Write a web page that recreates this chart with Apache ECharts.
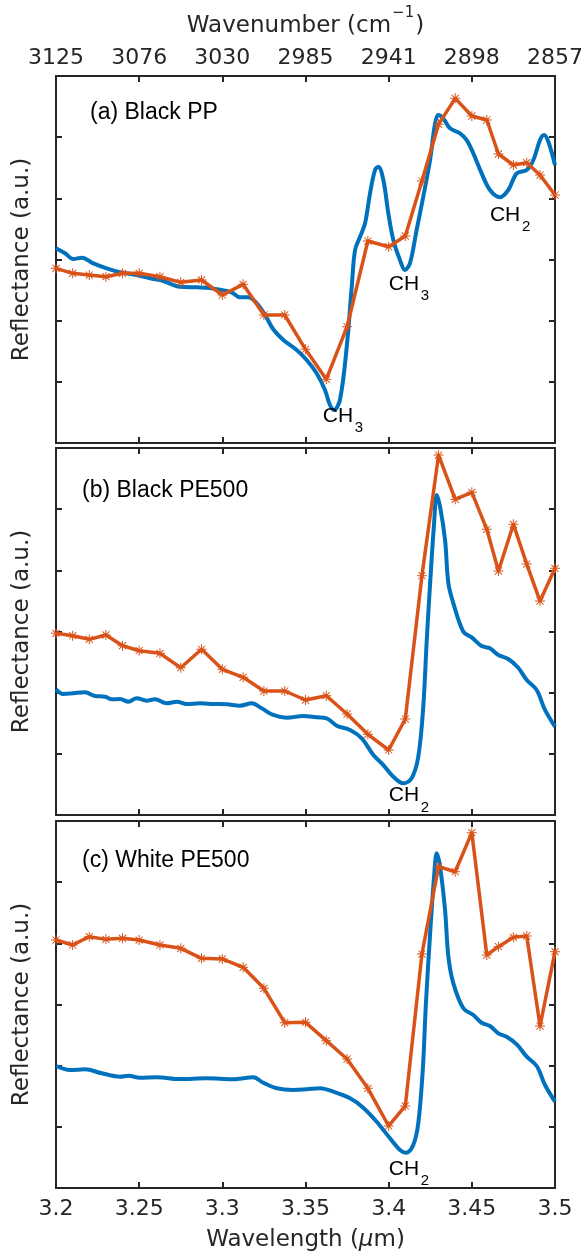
<!DOCTYPE html>
<html>
<head>
<meta charset="utf-8">
<script src="https://cdn.jsdelivr.net/npm/echarts@6/dist/echarts.min.js"></script>
<style>
  html, body { margin: 0; padding: 0; background: #fff; }
  #chart { width: 588px; height: 1257px; }
</style>
</head>
<body>
<div id="chart"></div>
<script>
// Axis ticks (wavelength, µm) and the matching wavenumber labels (cm^-1) on the top axis
const wavelengthTicks = [3.2, 3.25, 3.3, 3.35, 3.4, 3.45, 3.5];
const wavenumberLabels = ['3125', '3076', '3030', '2985', '2941', '2898', '2857'];

const panelTitles = ['(a) Black PP', '(b) Black PE500', '(c) White PE500'];

// Discrete laser measurement wavelengths (orange, shared by all panels)
const laserWavelengths = [3.2, 3.21, 3.22, 3.23, 3.24, 3.25, 3.2625, 3.275, 3.2875, 3.3,
  3.3125, 3.325, 3.3375, 3.35, 3.3625, 3.375, 3.3875, 3.4, 3.41, 3.42,
  3.43, 3.44, 3.45, 3.459, 3.466, 3.475, 3.483, 3.491, 3.5];

// (a) Black PP
const ppSpectrumX = [3.2, 3.2054, 3.2104, 3.2155, 3.2224, 3.2305, 3.2385, 3.2485, 3.2565, 3.2645,
  3.2745, 3.2846, 3.2906, 3.2996, 3.3056, 3.3106, 3.3156, 3.3207, 3.3257, 3.3306,
  3.3367, 3.3447, 3.3507, 3.3567, 3.3617, 3.3647, 3.3671, 3.3707, 3.3748, 3.3778,
  3.3798, 3.3828, 3.3858, 3.3888, 3.3918, 3.3938, 3.3968, 3.3998, 3.4028, 3.4068,
  3.4098, 3.4128, 3.4168, 3.4208, 3.4249, 3.4279, 3.4298, 3.4328, 3.4369, 3.4429,
  3.4469, 3.4509, 3.4559, 3.4609, 3.4669, 3.4719, 3.477, 3.483, 3.487, 3.491,
  3.4934, 3.496, 3.5];
const ppSpectrumY = [3.183, 3.101, 3.008, 3.029, 2.938, 2.856, 2.791, 2.746, 2.693, 2.648,
  2.555, 2.545, 2.539, 2.501, 2.464, 2.382, 2.382, 2.284, 2.093, 1.859,
  1.684, 1.520, 1.357, 1.139, 0.866, 0.621, 0.539, 0.703, 1.574, 2.555,
  3.155, 3.373, 3.592, 4.082, 4.463, 4.517, 4.300, 3.755, 3.319, 2.992,
  2.829, 2.938, 3.482, 4.027, 4.627, 5.226, 5.362, 5.308, 5.145, 5.063,
  4.953, 4.736, 4.409, 4.136, 4.017, 4.136, 4.409, 4.463, 4.627, 4.953,
  5.035, 4.926, 4.545];
const ppLaser = [2.856, 2.774, 2.746, 2.719, 2.774, 2.774, 2.719, 2.627, 2.665, 2.420,
  2.594, 2.093, 2.093, 1.532, 1.041, 1.901, 3.302, 3.209, 3.384, 4.283,
  5.210, 5.635, 5.346, 5.280, 4.725, 4.545, 4.583, 4.381, 4.054];

// (b) Black PE500
const blackPeSpectrumX = [3.2, 3.2044, 3.2104, 3.2174, 3.2234, 3.2295, 3.2335, 3.2385, 3.2435, 3.2485,
  3.2545, 3.2595, 3.2665, 3.2726, 3.2786, 3.2866, 3.2946, 3.3026, 3.3106, 3.3177,
  3.3237, 3.3306, 3.3387, 3.3487, 3.3567, 3.3627, 3.3688, 3.3768, 3.3838, 3.3908,
  3.3968, 3.4028, 3.4088, 3.4138, 3.4178, 3.4208, 3.4229, 3.4253, 3.4273, 3.4289,
  3.4309, 3.4339, 3.4359, 3.4389, 3.4449, 3.4499, 3.4559, 3.4609, 3.4659, 3.4719,
  3.4779, 3.483, 3.489, 3.494, 3.5];
const blackPeSpectrumY = [2.055, 1.978, 1.990, 2.006, 1.945, 1.934, 1.891, 1.896, 1.852, 1.908,
  1.869, 1.891, 1.826, 1.852, 1.815, 1.826, 1.815, 1.810, 1.787, 1.826,
  1.744, 1.635, 1.591, 1.618, 1.597, 1.581, 1.460, 1.390, 1.254, 0.981,
  0.817, 0.626, 0.518, 0.600, 0.953, 1.770, 2.861, 3.951, 4.769, 5.231,
  5.040, 4.496, 3.788, 3.461, 2.997, 2.905, 2.763, 2.725, 2.616, 2.550,
  2.408, 2.207, 2.044, 1.717, 1.444];
const blackPeLaser = [2.970, 2.931, 2.872, 2.943, 2.768, 2.686, 2.643, 2.408, 2.709, 2.382,
  2.251, 2.027, 2.027, 1.880, 1.950, 1.651, 1.319, 1.063, 1.569, 3.912,
  5.885, 5.161, 5.275, 4.671, 3.989, 4.752, 4.103, 3.498, 4.033];

// (c) White PE500
const whitePeSpectrumX = [3.2, 3.2084, 3.2174, 3.2275, 3.2385, 3.2435, 3.2505, 3.2605, 3.2745, 3.2906,
  3.3066, 3.3186, 3.3246, 3.3327, 3.3427, 3.3507, 3.3587, 3.3667, 3.3768, 3.3847,
  3.3928, 3.4008, 3.4068, 3.4104, 3.4148, 3.4178, 3.4205, 3.4224, 3.4248, 3.4273,
  3.4289, 3.4309, 3.4339, 3.4359, 3.4389, 3.4449, 3.4509, 3.4559, 3.4609, 3.4659,
  3.4709, 3.477, 3.483, 3.489, 3.494, 3.5];
const whitePeSpectrumY = [1.994, 1.929, 1.941, 1.875, 1.820, 1.836, 1.803, 1.810, 1.782, 1.793,
  1.777, 1.810, 1.721, 1.630, 1.602, 1.614, 1.630, 1.574, 1.466, 1.313,
  1.084, 0.812, 0.621, 0.577, 0.703, 1.058, 1.929, 3.019, 4.108, 5.089,
  5.472, 5.253, 4.545, 3.781, 3.346, 2.938, 2.828, 2.702, 2.648, 2.529,
  2.473, 2.349, 2.147, 1.994, 1.684, 1.411];
const whitePeLaser = [4.054, 3.973, 4.109, 4.065, 4.082, 4.054, 3.973, 3.918, 3.755, 3.744,
  3.608, 3.264, 2.703, 2.708, 2.409, 2.109, 1.629, 1.014, 1.341, 3.825,
  5.253, 5.171, 5.809, 3.809, 3.945, 4.098, 4.120, 2.648, 3.864];

// Band annotations: [wavelength, reflectance, subscript] (position of the "CH" text)
const ppBands = [[3.3695, 0.44, '3'], [3.4092, 2.60, '3'], [3.470, 3.73, '2']];
const blackPeBands = [[3.4092, 0.32, '2']];
const whitePeBands = [[3.4092, 0.31, '2']];

const panels = [
  { title: panelTitles[0], sx: ppSpectrumX, sy: ppSpectrumY, laser: ppLaser, bands: ppBands },
  { title: panelTitles[1], sx: blackPeSpectrumX, sy: blackPeSpectrumY, laser: blackPeLaser, bands: blackPeBands },
  { title: panelTitles[2], sx: whitePeSpectrumX, sy: whitePeSpectrumY, laser: whitePeLaser, bands: whitePeBands }
];

const BLUE = '#0072BD';
const ORANGE = '#D95319';
const AXIS = '#262626';
const TICK_FONT = 'DejaVu Sans';
const TEXT_FONT = 'Liberation Sans';

// MATLAB-style '*' marker built from four crossing bars
const ASTERISK = 'path://M-1,-10L1,-10L1,10L-1,10Z M-10,-1L10,-1L10,1L-10,1Z ' +
  'M-6.36,-7.78L7.78,6.36L6.36,7.78L-7.78,-6.36Z M6.36,-7.78L7.78,-6.36L-6.36,7.78L-7.78,6.36Z';

const plotLeft = 56, plotWidth = 499, plotHeight = 367;
const panelTops = [76, 448, 821];

const zip = (xs, ys) => xs.map((x, i) => [x, ys[i]]);
const tickIndex = v => wavelengthTicks.findIndex(t => Math.abs(t - v) < 1e-6);

const measureCtx = document.createElement('canvas').getContext('2d');
const textWidth = (text, size) => {
  measureCtx.font = size + 'px "' + TICK_FONT + '"';
  return measureCtx.measureText(text).width;
};

const grid = [], xAxis = [], yAxis = [], series = [], graphic = [];

const axisLine = { show: true, onZero: false, lineStyle: { color: AXIS, width: 2 } };
const axisTick = { show: true, inside: true, length: 6, lineStyle: { color: AXIS, width: 2 } };

const bandLabels = bands => {
  const items = [];
  bands.forEach(b => {
    items.push({
      coord: [b[0], b[1]],
      label: { show: true, position: 'inside', formatter: 'CH', fontFamily: TEXT_FONT, fontSize: 21, color: '#000' }
    });
    items.push({
      coord: [b[0], b[1]],
      label: { show: true, position: 'inside', formatter: b[2], fontFamily: TEXT_FONT, fontSize: 15, color: '#000', offset: [21, 12] }
    });
  });
  return items;
};

panels.forEach((p, i) => {
  grid.push({ left: plotLeft, top: panelTops[i], width: plotWidth, height: plotHeight });

  // bottom wavelength axis
  xAxis.push({
    type: 'value', gridIndex: i, position: 'bottom', min: 3.2, max: 3.5, interval: 0.05,
    axisLine, axisTick, splitLine: { show: false },
    axisLabel: {
      show: i === 2, margin: 10, color: AXIS, fontFamily: TICK_FONT, fontSize: 22,
      formatter: v => String(parseFloat(v.toFixed(2)))
    }
  });
  // top wavenumber axis
  xAxis.push({
    type: 'value', gridIndex: i, position: 'top', min: 3.2, max: 3.5, interval: 0.05,
    axisLine, axisTick, splitLine: { show: false },
    axisLabel: {
      show: i === 0, margin: 7, color: AXIS, fontFamily: TICK_FONT, fontSize: 22,
      formatter: v => wavenumberLabels[tickIndex(v)] || ''
    }
  });
  ['left', 'right'].forEach(pos => {
    yAxis.push({
      type: 'value', gridIndex: i, position: pos, min: 0, max: 6, interval: 1,
      axisLine, axisTick, axisLabel: { show: false }, splitLine: { show: false }
    });
  });

  series.push({
    type: 'line', xAxisIndex: 2 * i, yAxisIndex: 2 * i,
    data: zip(p.sx, p.sy), showSymbol: false, smooth: 0.35, clip: false,
    lineStyle: { color: BLUE, width: 4 },
    markPoint: { symbol: 'circle', symbolSize: 0, silent: true, data: bandLabels(p.bands) }
  });
  series.push({
    type: 'line', xAxisIndex: 2 * i, yAxisIndex: 2 * i,
    data: zip(laserWavelengths, p.laser), clip: false,
    symbol: ASTERISK, symbolSize: 10, showSymbol: true,
    itemStyle: { color: ORANGE },
    lineStyle: { color: ORANGE, width: 3.5 }
  });

  graphic.push({
    type: 'text', left: i === 0 ? 90 : 82, top: [101, 479, 849][i],
    style: { text: p.title, fontFamily: TEXT_FONT, fontSize: 23, fill: '#000' }
  });
  graphic.push({
    type: 'text', x: 22, y: panelTops[i] + plotHeight / 2, rotation: Math.PI / 2,
    style: {
      text: 'Reflectance (a.u.)', fontFamily: TICK_FONT, fontSize: 23, fill: AXIS,
      align: 'center', verticalAlign: 'middle', textAlign: 'center', textVerticalAlign: 'middle'
    }
  });
});

// Top axis title with superscript, laid out piece by piece
(function () {
  const main = 'Wavenumber (cm', sup = '−1', close = ')';
  const w1 = textWidth(main, 23), w2 = textWidth(sup, 15), w3 = textWidth(close, 23);
  let x = plotLeft + plotWidth / 2 - (w1 + w2 + w3 + 2) / 2;
  const piece = (text, size, y, dx) => {
    graphic.push({
      type: 'text', x, y,
      style: {
        text, fontFamily: TICK_FONT, fontSize: size, fill: AXIS,
        align: 'left', verticalAlign: 'middle', textAlign: 'left', textVerticalAlign: 'middle'
      }
    });
    x += dx;
  };
  piece(main, 23, 26, w1 + 1);
  piece(sup, 15, 13, w2 + 1);
  piece(close, 23, 26, w3);
})();

graphic.push({
  type: 'text', x: plotLeft + plotWidth / 2, y: 1240,
  style: {
    text: '{m|Wavelength (}{i|μ}{m|m)}', fill: AXIS,
    align: 'center', verticalAlign: 'middle', textAlign: 'center', textVerticalAlign: 'middle',
    rich: {
      m: { fontFamily: TICK_FONT, fontSize: 23, fill: AXIS },
      i: { fontFamily: TICK_FONT, fontSize: 23, fill: AXIS, fontStyle: 'italic' }
    }
  }
});

const chart = echarts.init(document.getElementById('chart'), null, { renderer: 'canvas' });
chart.setOption({
  animation: false,
  backgroundColor: '#fff',
  grid, xAxis, yAxis, series, graphic
});
</script>
</body>
</html>
